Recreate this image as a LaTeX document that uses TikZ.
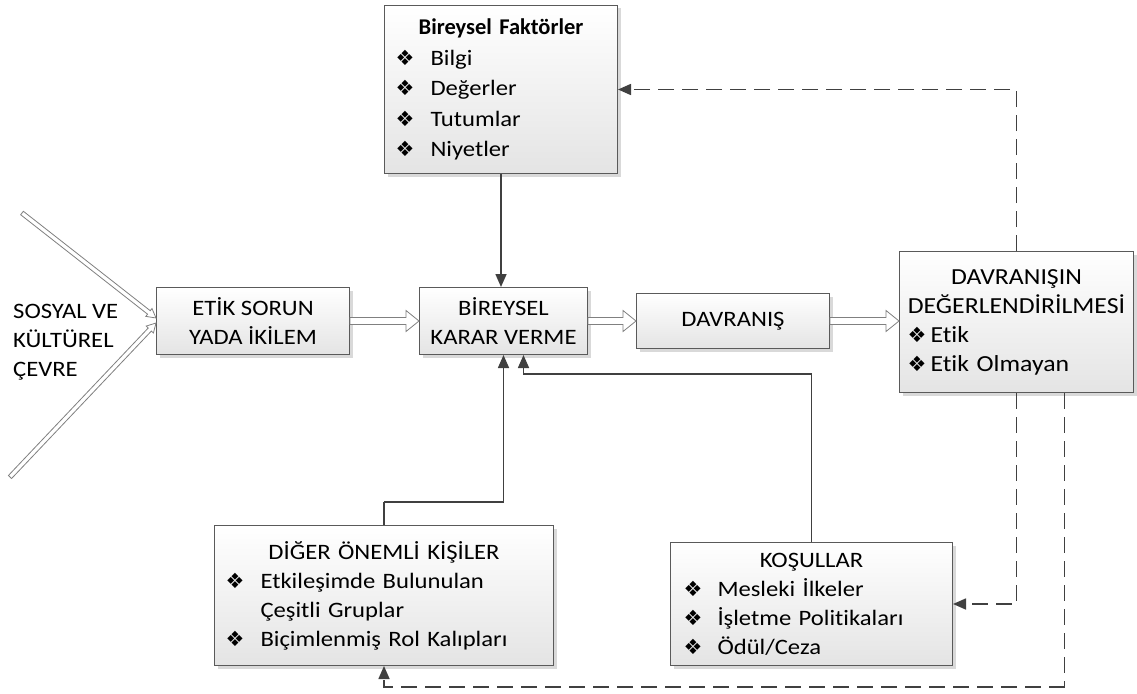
\documentclass[tikz,border=0pt]{standalone}
\usepackage{fontspec}
\setmainfont{Carlito}[FakeStretch=1.12, RawFeature=-liga]
\newfontfamily\titlefont{Carlito}[RawFeature=-liga]
\newfontfamily\symfont{DejaVu Sans}
\usetikzlibrary{arrows.meta,calc,shadows}

\definecolor{boxline}{HTML}{5A5A5A}
\definecolor{boxgrey}{HTML}{E4E4E4}
\definecolor{linkgrey}{HTML}{404040}
\definecolor{hollowgrey}{HTML}{808080}

% four-diamond bullet and a bulleted line with a fixed gap before the text
\newcommand\dia{{\symfont\fontsize{21}{21}\selectfont ❖}}
\newcommand\itemline[2]{\makebox[\linewidth][l]{\makebox[#1][l]{\dia}#2}}
\newcommand\contline[2]{\makebox[\linewidth][l]{\hspace*{#1}#2}}

% open block arrow: from, to, half shaft width, half head width, head length
\newcommand\hollowarrow[5]{%
  \coordinate (ha-s) at (#1);
  \coordinate (ha-e) at (#2);
  \coordinate (ha-h) at ($(ha-e)!#5!(ha-s)$);
  \filldraw[hollow]
    ($(ha-s)!#3!90:(ha-e)$) -- ($(ha-h)!#3!90:(ha-e)$)
    -- ($(ha-h)!#4!90:(ha-e)$) -- (ha-e)
    -- ($(ha-h)!#4!-90:(ha-e)$) -- ($(ha-h)!#3!-90:(ha-e)$)
    -- ($(ha-s)!#3!-90:(ha-e)$) -- cycle;
}

\begin{document}
\begin{tikzpicture}[x=1pt,y=-1pt,
  box/.style={draw=boxline, line width=1pt, top color=white, bottom color=boxgrey,
    drop shadow={shadow xshift=3pt, shadow yshift=-3pt, fill=black, opacity=0.15},
    anchor=north west, inner ysep=0pt, align=center,
    font=\fontsize{22}{29}\selectfont},
  hollow/.style={draw=hollowgrey, fill=white, line width=0.8pt, line join=miter},
  link/.style={draw=linkgrey, line width=1.6pt,
    -{Triangle[length=13pt,width=11pt]}},
  dlink/.style={link, dash pattern=on 16pt off 8pt},
  plain/.style={font=\fontsize{22}{29}\selectfont, inner sep=0pt, align=left}
]
\useasboundingbox[fill=white] (0,0) rectangle (1137,693);

% boxes
\node[box, font=\fontsize{22}{30.5}\selectfont, minimum width=233, minimum height=168,
  inner xsep=11pt, text width=211pt]
  (bf) at (384,5) {{\titlefont\bfseries\fontsize{22.5}{30}\selectfont Bireysel Faktörler}\\
    \itemline{35pt}{Bilgi}\\
    \itemline{35pt}{Değerler}\\
    \itemline{35pt}{Tutumlar}\\
    \itemline{35pt}{Niyetler}};

\node[box, minimum width=193, minimum height=67] (etik) at (156,287)
  {ETİK SORUN\\YADA İKİLEM};

\node[box, minimum width=168, minimum height=67] (bk) at (419,287)
  {BİREYSEL\\KARAR VERME};

\node[box, minimum width=193, minimum height=55] (dv) at (636,293) {DAVRANIŞ};

\node[box, font=\fontsize{23}{29}\selectfont, minimum width=234, minimum height=141,
  inner xsep=8pt, text width=218pt]
  (dav) at (899,251) {DAVRANIŞIN\\DEĞERLENDİRİLMESİ\\
    \itemline{23pt}{Etik}\\
    \itemline{23pt}{Etik Olmayan}};

\node[box, minimum width=339, minimum height=140, inner xsep=11pt, text width=317pt]
  (dig) at (214,525) {DİĞER ÖNEMLİ KİŞİLER\\
    \itemline{35pt}{Etkileşimde Bulunulan}\\
    \contline{35pt}{Çeşitli Gruplar}\\
    \itemline{35pt}{Biçimlenmiş Rol Kalıpları}};

\node[box, minimum width=282, minimum height=123, inner xsep=13pt, text width=256pt]
  (kos) at (670,542) {KOŞULLAR\\
    \itemline{34pt}{Mesleki İlkeler}\\
    \itemline{34pt}{İşletme Politikaları}\\
    \itemline{34pt}{Ödül/Ceza}};

% surrounding environment label
\node[plain, anchor=west] (env) at (13,342) {SOSYAL VE\\KÜLTÜREL\\ÇEVRE};

% converging environment arrows
\coordinate (vtop) at (22,213);
\coordinate (vbot) at (10,477);
\hollowarrow{vtop}{$(etik.west)+(0,-3)$}{2.2pt}{5pt}{9pt}
\hollowarrow{vbot}{$(etik.west)+(0,2)$}{2.2pt}{5pt}{9pt}

% main flow
\hollowarrow{etik.east}{etik.east -| bk.west}{3.5pt}{10.5pt}{13pt}
\hollowarrow{bk.east}{bk.east -| dv.west}{3.5pt}{10.5pt}{13pt}
\hollowarrow{dv.east}{dv.east -| dav.west}{3.5pt}{10.5pt}{13pt}

% influences on the decision
\draw[link] (bf.south) -- (bf.south |- bk.north);
\draw[link, -] (dig.north) -- ++(0,-23) coordinate (digturn);
\draw[link] (digturn) -| (bk.south);
\draw[link, -] (kos.north) -- ++(0,-168) coordinate (kosturn);
\draw[link] (kosturn) -| ([xshift=20pt]bk.south);

% feedback from the evaluation
\draw[dlink] (dav.north) |- (bf.east);
\draw[dlink] (dav.south) |- (kos.east);
\draw[dlink, -] ([xshift=48pt]dav.south) -- ++(0,294) coordinate (fbturn);
\draw[dlink] (fbturn) -| (dig.south);
\end{tikzpicture}
\end{document}
